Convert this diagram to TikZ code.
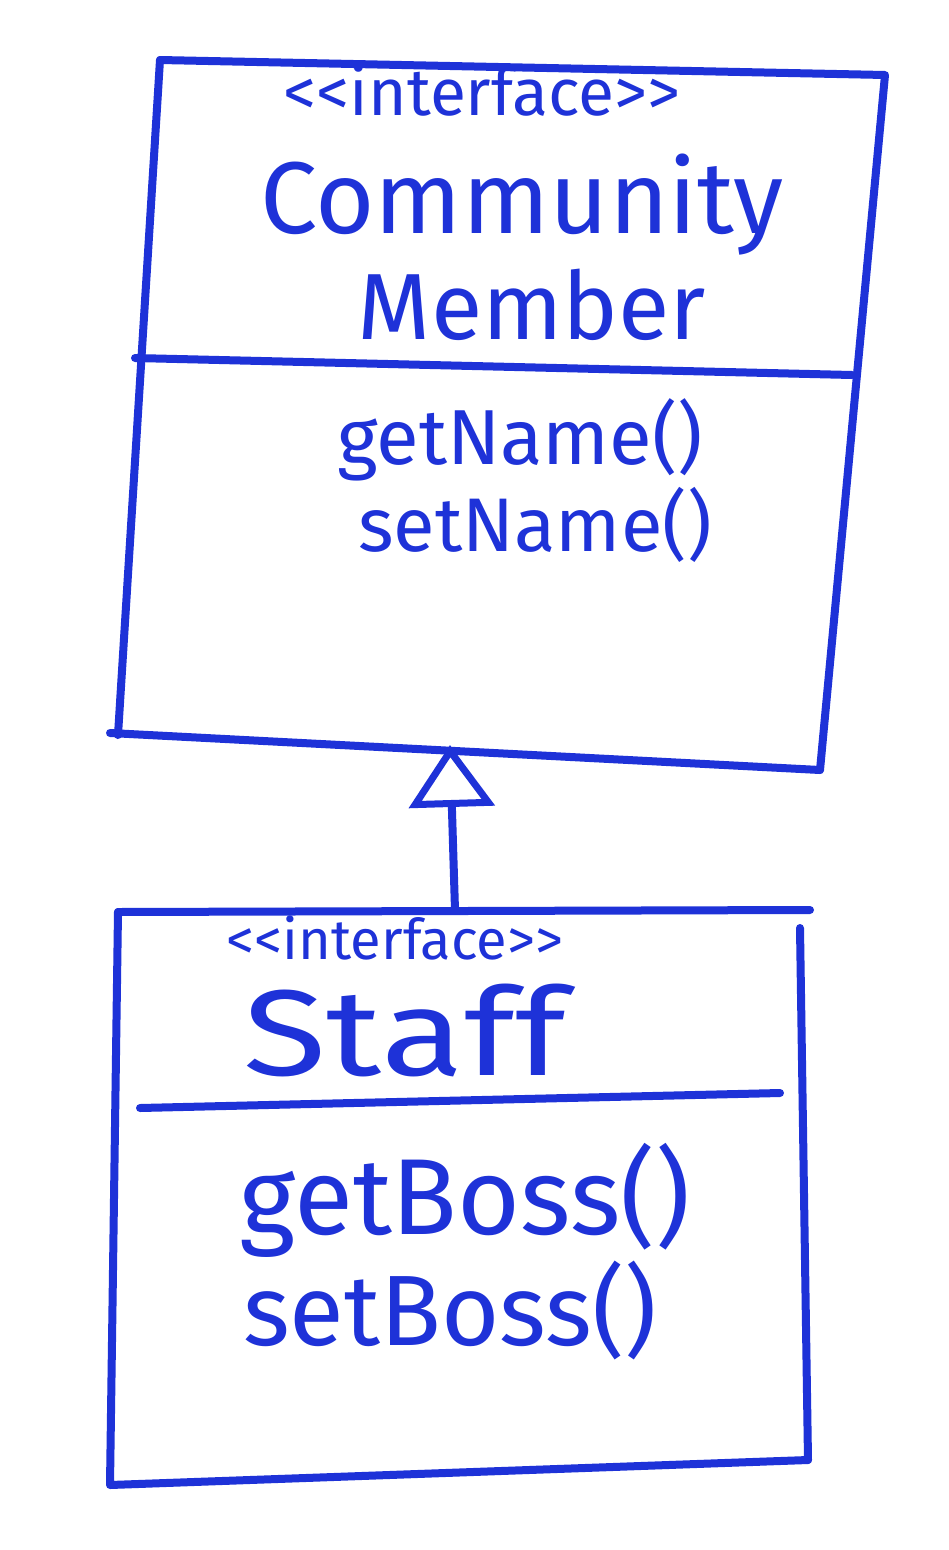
\documentclass[tikz,border=0pt]{standalone}
\usepackage{fontspec}
\setmainfont{Fira Sans}
\usetikzlibrary{arrows.meta}
\definecolor{ink}{HTML}{1E32D8}
\tikzset{
  pen/.style={draw=ink, line width=8pt, line cap=round, line join=round},
  hand/.style={text=ink, inner sep=0pt, anchor=center},
}
\newcommand{\ifacelabel}{{<}{<}interface{>}{>}}
\begin{document}
\begin{tikzpicture}[x=1pt,y=-1pt]
\useasboundingbox[fill=white] (0,0) rectangle (948,1550);
% top class box
\coordinate (a1) at (160,60);
\coordinate (a2) at (885,75);
\coordinate (a3) at (820,770);
\coordinate (a4) at (118,735);
\draw[pen] (a1) -- (a2) -- (a3);
\draw[pen] (a1) -- (a4);
\draw[pen] (110,733) -- (a3);
\draw[pen] (135,358) -- (852,375);
\coordinate (topmid) at (450,745);
% bottom class box
\coordinate (b1) at (118,912);
\coordinate (b2) at (810,910);
\coordinate (b3) at (808,1460);
\coordinate (b4) at (110,1485);
\draw[pen] (b1) -- (b2);
\draw[pen] (b1) -- (b4) -- (b3);
\draw[pen] (800,928) -- (b3);
\draw[pen] (140,1108) -- (780,1093);
\coordinate (botmid) at (455,910);
% generalization arrow
\draw[pen, -{Triangle[open, length=62pt, width=85pt, line width=7pt]}] (botmid) -- (topmid);
% texts
\node[hand, font=\fontsize{66}{66}\selectfont] (st1) at (482,90) {\ifacelabel};
\node[hand, font=\fontsize{102}{102}\selectfont] (cm1) at (522,205) {Community};
\node[hand, font=\fontsize{94}{94}\selectfont] (cm2) at (532,305) {Member};
\node[hand, font=\fontsize{78}{78}\selectfont] (m1) at (520,440) {getName()};
\node[hand, font=\fontsize{76}{76}\selectfont] (m2) at (535,525) {setName()};
\node[hand, font=\fontsize{56}{56}\selectfont] (st2) at (395,938) {\ifacelabel};
\node[hand, font=\fontsize{122}{122}\selectfont] (sf) at (405,1030) {\scalebox{1.25}[1]{Staff}};
\node[hand, font=\fontsize{108}{108}\selectfont] (m3) at (465,1200) {getBoss()};
\node[hand, font=\fontsize{100}{100}\selectfont] (m4) at (450,1310) {setBoss()};
\end{tikzpicture}
\end{document}
